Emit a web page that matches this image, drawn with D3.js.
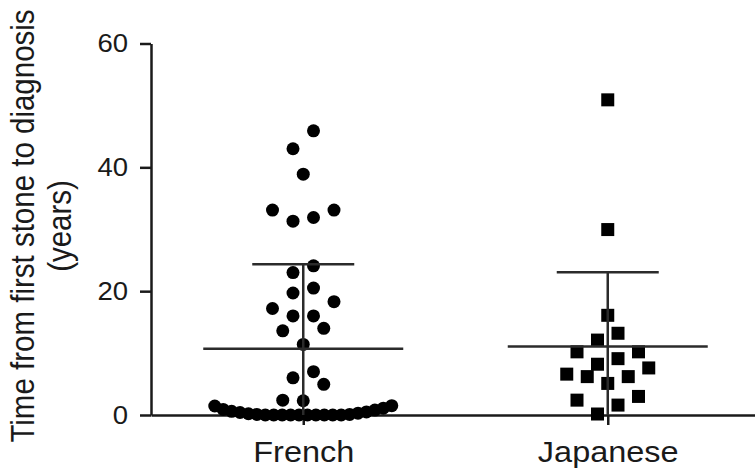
<!DOCTYPE html>
<html>
<head>
<meta charset="utf-8">
<script src="https://cdn.jsdelivr.net/npm/d3@7/dist/d3.min.js"></script>
<style>
  body { margin: 0; background: #fff; }
  svg { display: block; font-family: 'Liberation Sans', Arial, Helvetica, sans-serif; }
</style>
</head>
<body>
<div id="chart"></div>
<script>
const categories = ['French', 'Japanese'];

// years from first stone to diagnosis, one value per patient
const frenchValues = [
  45.9, 43.0, 38.9, 33.1, 33.1, 31.9, 31.3, 24.1, 23.0, 20.5, 19.7, 18.3,
  17.2, 16.0, 16.0, 14.0, 13.6, 11.4, 7.0, 6.0, 4.95, 2.4, 2.3,
  1.5, 1.45, 1.1, 0.9, 0.8, 0.6, 0.5, 0.4, 0.3, 0.2, 0.1, 0.1,
  0, 0, 0, 0, 0, 0, 0, 0, 0, 0,
];
const japaneseValues = [
  50.9, 29.95, 16.1, 13.2, 12.1, 10.2, 10.2, 9.1, 8.2, 7.6, 6.6, 6.2, 6.2,
  5.1, 3.0, 2.4, 1.6, 0.16,
];

const yTicks = [0, 20, 40, 60];
const yLabel = ['Time from first stone to diagnosis', '(years)'];

const width = 755;
const height = 470;
const margin = { top: 43.5, right: -5, bottom: 55, left: 151 };

const ink = '#1a1a1a';
const textStretch = 'scale(1.1,1)';

const svg = d3
  .select('#chart')
  .append('svg')
  .attr('width', width)
  .attr('height', height);

const y = d3
  .scaleLinear()
  .domain([0, 60])
  .range([height - margin.bottom, margin.top]);

const x = d3
  .scalePoint()
  .domain(categories)
  .range([margin.left, width - margin.right])
  .padding(0.5);

// Prism-like scatter layout: values close together share a row, and each
// row is centred on the column with the smallest value in the middle.
const rowSpan = 3;     // values closer than this share a row
const tieSpan = 2;     // a row that is already full only takes near-ties
const slot = 20.5;     // px between neighbours in a row
const maxHalf = 88.5;  // px, half the column width
const fullRow = Math.floor((2 * maxHalf) / slot) + 1;

const layout = values => {
  const rows = [];
  values
    .slice()
    .sort((a, b) => a - b)
    .forEach(v => {
      const row = rows[rows.length - 1];
      const limit = row && row.length >= fullRow ? tieSpan : rowSpan;
      if (row && v - row[0] < limit) row.push(v);
      else rows.push([v]);
    });

  const out = [];
  rows.forEach(row => {
    const n = row.length;
    const step = n > 1 ? Math.min(slot, (2 * maxHalf) / (n - 1)) : 0;
    row.forEach((v, i) => {
      let k;
      let sign;
      if (n % 2) {
        k = Math.ceil(i / 2);
        sign = i % 2 ? -1 : 1;
      } else {
        k = Math.floor(i / 2) + 0.5;
        sign = i % 2 ? 1 : -1;
      }
      out.push({ value: v, dx: sign * k * step });
    });
  });
  return out;
};

const groups = [
  { name: 'French', values: frenchValues, shape: 'circle' },
  { name: 'Japanese', values: japaneseValues, shape: 'square' },
];

// Axes
const yAxis = svg
  .append('g')
  .attr('transform', `translate(${margin.left},0)`)
  .call(d3.axisLeft(y).tickValues(yTicks).tickSize(11).tickPadding(12).tickSizeOuter(0));

const xAxis = svg
  .append('g')
  .attr('transform', `translate(0,${y(0)})`)
  .call(d3.axisBottom(x).tickSize(10).tickPadding(16).tickSizeOuter(0));

[yAxis, xAxis].forEach(g => {
  g.attr('font-family', null).attr('font-size', null).attr('color', ink);
  g.selectAll('line, path').attr('stroke-width', 2.5);
  g.selectAll('text').attr('fill', ink);
});

yAxis
  .selectAll('text')
  .attr('x', 0)
  .attr('transform', `translate(-23,0) ${textStretch}`)
  .style('font-size', '25px');

xAxis
  .selectAll('text')
  .attr('transform', 'scale(1.12,1)')
  .style('font-size', '29px');

// Y axis title, two lines
const title = svg
  .append('text')
  .attr('transform', `translate(34,226) ${textStretch} rotate(-90)`)
  .attr('text-anchor', 'middle')
  .attr('fill', ink)
  .style('font-size', '29.5px');

title
  .selectAll('tspan')
  .data(yLabel)
  .enter()
  .append('tspan')
  .attr('x', 0)
  .attr('y', (d, i) => i * 33.6)
  .text(d => d);

// Points
groups.forEach(g => {
  const cx = x(g.name);
  const pts = layout(g.values);
  const pg = svg.append('g').attr('fill', '#000');
  if (g.shape === 'circle') {
    pg.selectAll('circle')
      .data(pts)
      .enter()
      .append('circle')
      .attr('cx', d => cx + d.dx)
      .attr('cy', d => y(d.value))
      .attr('r', 6.5);
  } else {
    pg.selectAll('rect')
      .data(pts)
      .enter()
      .append('rect')
      .attr('x', d => cx + d.dx - 6.5)
      .attr('y', d => y(d.value) - 6.5)
      .attr('width', 13)
      .attr('height', 13);
  }
});

// Mean with SD bars, clipped at the x axis
svg
  .append('clipPath')
  .attr('id', 'plot-area')
  .append('rect')
  .attr('x', margin.left)
  .attr('y', 0)
  .attr('width', width - margin.left)
  .attr('height', y(0));

const statG = svg
  .append('g')
  .attr('clip-path', 'url(#plot-area)')
  .attr('stroke', '#2b2b2b')
  .attr('stroke-width', 2.5)
  .attr('fill', 'none');

groups.forEach(g => {
  const cx = x(g.name);
  const mean = d3.mean(g.values);
  const sd = d3.deviation(g.values);
  const hi = y(mean + sd);
  const lo = y(mean - sd);

  statG.append('line')
    .attr('x1', cx - 100).attr('x2', cx + 100)
    .attr('y1', y(mean)).attr('y2', y(mean));
  statG.append('line')
    .attr('x1', cx).attr('x2', cx)
    .attr('y1', hi).attr('y2', lo);
  [hi, lo].forEach(yy => {
    statG.append('line')
      .attr('x1', cx - 51).attr('x2', cx + 51)
      .attr('y1', yy).attr('y2', yy);
  });
});
</script>
</body>
</html>
